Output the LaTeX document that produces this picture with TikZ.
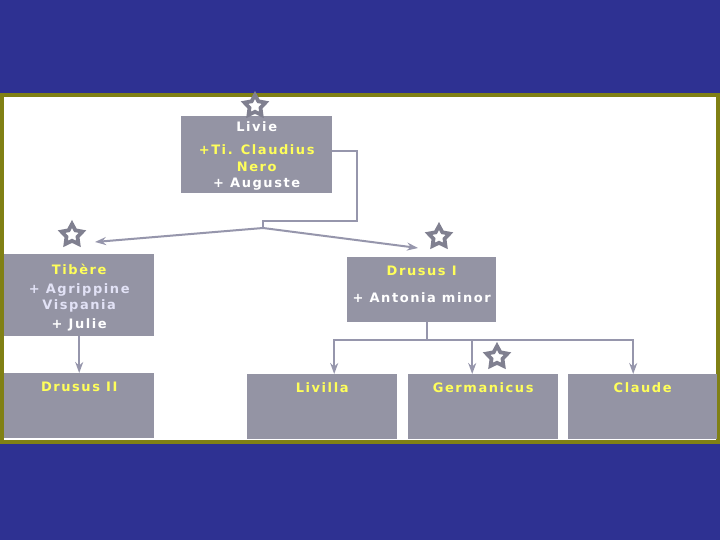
\documentclass[tikz,border=0pt]{standalone}
\usepackage{fontspec}
\setmainfont{DejaVu Sans}[LetterSpace=12]
\usepackage{xcolor}
\usetikzlibrary{shapes.geometric, arrows.meta, positioning}

\definecolor{slideblue}{RGB}{46,49,146}
\definecolor{paneolive}{RGB}{128,128,20}
\definecolor{boxgray}{RGB}{148,148,164}
\definecolor{nameyellow}{RGB}{255,255,90}
\definecolor{lilac}{RGB}{226,226,246}
\definecolor{linkgray}{RGB}{150,150,172}
\definecolor{stargray}{RGB}{128,128,144}

\begin{document}
\begin{tikzpicture}[
    x=1pt, y=-1pt,
    person/.style={
      rectangle, fill=boxgray, anchor=north west, inner sep=0pt,
      minimum width=150pt, minimum height=65pt,
      font=\bfseries\fontsize{13}{16}\selectfont, text=white, align=center
    },
    toptext/.style={text height=18pt, text depth=47pt},
    badge/.style={
      star, star points=5, star point ratio=1.9, draw=stargray, fill=white,
      line width=3.8pt, minimum size=22pt, inner sep=0pt
    },
    link/.style={line width=2pt, linkgray},
    arr/.style={-{Stealth[length=11pt, width=8pt]}, line width=2pt, linkgray},
  ]

  \useasboundingbox (0,0) rectangle (720,540);
  \fill[slideblue] (0,0) rectangle (720,540);
  \draw[paneolive, line width=4pt, fill=white] (2,95.3) rectangle (718,442.3);

  % parents
  \node[person, minimum width=151pt, minimum height=77pt, text height=71pt, text depth=6pt] (livie) at (181,116)
    {Livie\\[7pt]\color{nameyellow}+Ti. Claudius\\[1pt]\color{nameyellow}Nero\\+ Auguste};
  \node[person, minimum height=82pt, text height=74.5pt, text depth=7.5pt] (tibere) at (4,254)
    {\color{nameyellow}Tib\`ere\\[3pt]\color{lilac}+ Agrippine\\\color{lilac}Vispania\\[3pt]+ Julie};
  \node[person, minimum width=149pt, text height=45pt, text depth=20pt] (drususI) at (347,257)
    {\color{nameyellow}Drusus I\\[11pt]+ Antonia minor};

  % children
  \node[person, toptext] (drususII) at (4,373) {\color{nameyellow}Drusus II};
  \node[person, toptext] (livilla) at (247,374) {\color{nameyellow}Livilla};
  \node[person, toptext] (german) at (408,374) {\color{nameyellow}Germanicus};
  \node[person, toptext, minimum width=149pt] (claude) at (568,374) {\color{nameyellow}Claude};

  % stars
  \node[badge] (liviestar) at (255,106) {};
  \node[badge] (tibstar) at (72,235) {};
  \node[badge] (drustar) at (439,237) {};
  \node[badge] (germstar) at (497,357) {};

  \coordinate (bend) at (357,221);
  \coordinate (fork) at (263,228);
  \draw[link] ([yshift=4pt]livie.east) -| (bend) -| (fork);
  \draw[arr] (fork) -- ([xshift=23pt, yshift=-7pt]tibstar.center);
  \draw[arr] (fork) -- ([xshift=-21pt, yshift=-11pt]drustar.center);

  \draw[arr] (tibere) -- (drususII);

  \draw[link] ([xshift=5.5pt]drususI.south) -- ++(0,18) coordinate (hub);
  \draw[arr] (hub) -| ([xshift=12pt]livilla.north);
  \draw[arr] (hub) -| ([xshift=-11pt]german.north);
  \draw[arr] (hub) -| ([xshift=-9.5pt]claude.north);
\end{tikzpicture}
\end{document}
